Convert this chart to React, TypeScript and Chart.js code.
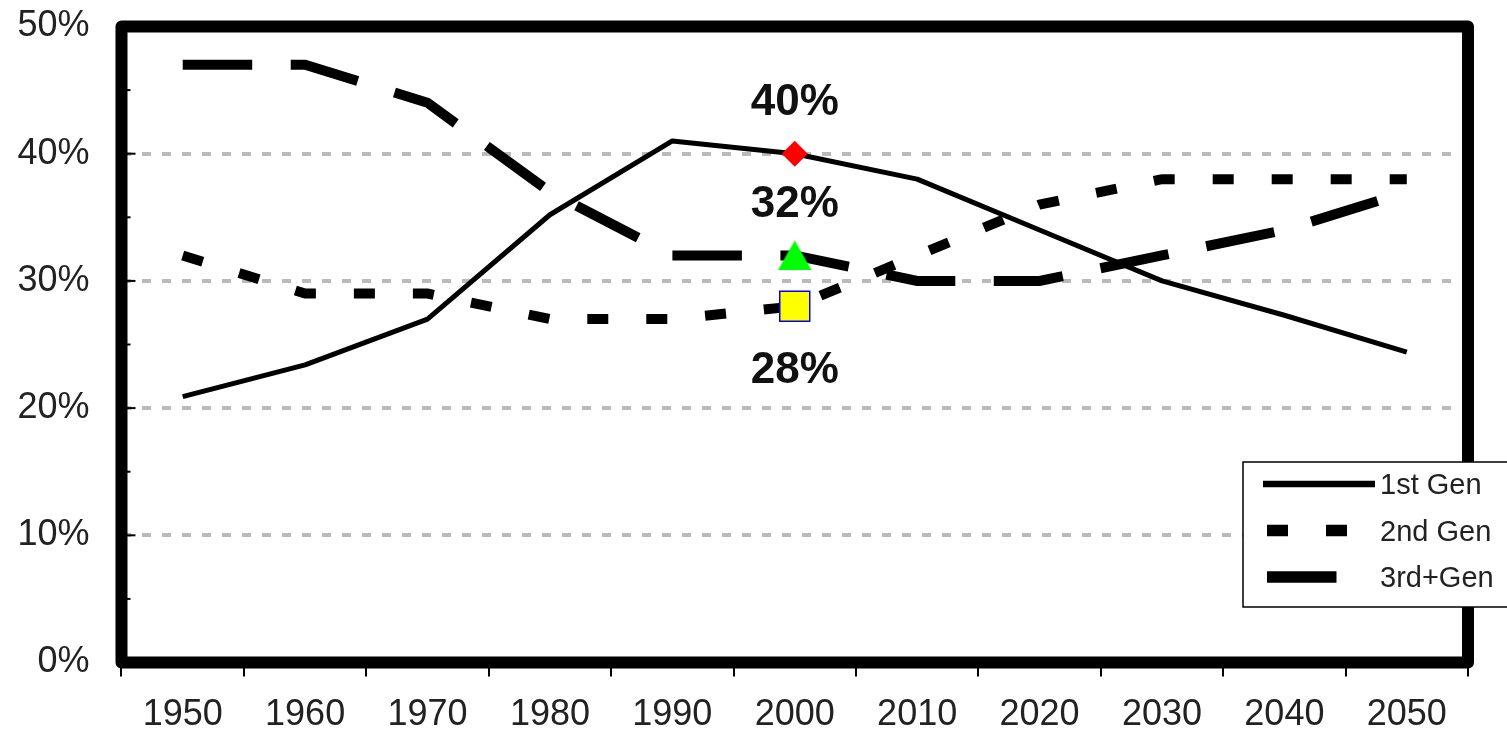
import React, { useEffect, useRef } from 'react';
import { Chart, registerables } from 'chart.js';

Chart.register(...registerables);

// ---- data ----
const years = ['1950', '1960', '1970', '1980', '1990', '2000', '2010', '2020', '2030', '2040', '2050'];
const firstGen = [20.9, 23.4, 27.0, 35.2, 41.0, 40.0, 38.0, 34.0, 30.0, 27.3, 24.4];
const secondGen = [32, 29, 29, 27, 27, 28, 32, 36, 38, 38, 38];
const thirdGen = [47, 47, 44, 37, 32, 32, 30, 30, 32, 34, 37];
const seriesLabels = ['1st Gen', '2nd Gen', '3rd+Gen'];
const yMin = 0;
const yMax = 50;
const yStep = 10;
const highlightYear = '2000';

const FONT = "'Liberation Sans', Arial, Helvetica, sans-serif";

function makeTriangle(w: number, h: number, color: string) {
  const c = document.createElement('canvas');
  c.width = w;
  c.height = h;
  const g = c.getContext('2d')!;
  g.fillStyle = color;
  g.beginPath();
  g.moveTo(w / 2, 0);
  g.lineTo(w, h);
  g.lineTo(0, h);
  g.closePath();
  g.fill();
  return c;
}

const framePlugin = {
  id: 'frameAndLegend',
  afterDraw(chart: any) {
    const { ctx, chartArea: a, scales } = chart;
    const ys = scales.y;
    const xs = scales.x;
    ctx.save();

    // inner y ticks (major + minor)
    ctx.strokeStyle = '#000';
    ctx.lineWidth = 2;
    for (let v = yMin; v <= yMax; v += yStep / 2) {
      const py = ys.getPixelForValue(v);
      const len = v % yStep === 0 ? 14 : 9;
      ctx.beginPath();
      ctx.moveTo(a.left, py);
      ctx.lineTo(a.left + len, py);
      ctx.stroke();
    }

    // thick frame
    ctx.lineWidth = 12;
    ctx.lineJoin = 'round';
    ctx.strokeStyle = '#000';
    ctx.strokeRect(a.left, a.top, a.right - a.left, a.bottom - a.top);

    // value labels at highlighted year
    const hi = years.indexOf(highlightYear);
    const px = xs.getPixelForValue(hi);
    ctx.font = `bold 44px ${FONT}`;
    ctx.fillStyle = '#111';
    ctx.textAlign = 'center';
    ctx.textBaseline = 'alphabetic';
    const labelDefs = [
      { v: firstGen[hi], off: -38.5 },
      { v: thirdGen[hi], off: -38.5 },
      { v: secondGen[hi], off: 77 },
    ];
    labelDefs.forEach((d) => {
      ctx.fillText(`${d.v}%`, px, ys.getPixelForValue(d.v) + d.off);
    });

    // legend box
    const lx = 1243;
    const ly = 462;
    const lw = 320;
    const lh = 145;
    ctx.fillStyle = '#fff';
    ctx.fillRect(lx, ly, lw, lh);
    ctx.lineWidth = 1.5;
    ctx.lineJoin = 'miter';
    ctx.strokeStyle = '#000';
    ctx.strokeRect(lx, ly, lw, lh);

    const lineSets = chart.data.datasets.filter((d: any) => d.isSeries);
    lineSets.forEach((d: any, i: number) => {
      const cy = ly + 22 + i * 46.5;
      ctx.save();
      ctx.strokeStyle = d.borderColor;
      ctx.lineWidth = d.borderWidth + 1.5;
      ctx.lineCap = 'butt';
      ctx.setLineDash(d.borderDash || []);
      ctx.beginPath();
      if (i === 0) {
        ctx.moveTo(lx + 20, cy);
        ctx.lineTo(lx + 132, cy);
      } else {
        ctx.moveTo(lx + 24, cy);
        ctx.lineTo(lx + 127, cy);
      }
      ctx.stroke();
      ctx.restore();
      ctx.font = `29px ${FONT}`;
      ctx.fillStyle = '#222';
      ctx.textAlign = 'left';
      ctx.textBaseline = 'middle';
      ctx.fillText(d.label, lx + 137, cy + 2);
    });

    ctx.restore();
  },
};

export default function App() {
  const ref = useRef<HTMLCanvasElement>(null);

  useEffect(() => {
    const canvas = ref.current;
    if (!canvas) return;
    const hi = years.indexOf(highlightYear);
    const only = (arr: number[]) => years.map((_, i) => (i === hi ? arr[i] : null));
    const tri = makeTriangle(34, 30, '#00ff00');

    const chart = new Chart(canvas, {
      type: 'line',
      data: {
        labels: years,
        datasets: [
          {
            label: 'marker1',
            data: only(firstGen),
            showLine: false,
            pointStyle: 'rectRot',
            pointRadius: 13,
            pointBackgroundColor: '#ff0000',
            pointBorderColor: '#ff0000',
            pointBorderWidth: 0,
            order: 0,
          } as any,
          {
            label: 'marker3',
            data: only(thirdGen),
            showLine: false,
            pointStyle: tri,
            pointRadius: 15,
            order: 0,
          } as any,
          {
            label: 'marker2',
            data: only(secondGen),
            showLine: false,
            pointStyle: 'rect',
            pointRadius: 21.2,
            pointBackgroundColor: '#ffff00',
            pointBorderColor: '#0000ff',
            pointBorderWidth: 1.5,
            order: 0,
          } as any,
          {
            label: seriesLabels[0],
            data: firstGen,
            isSeries: true,
            borderColor: '#000',
            borderWidth: 5,
            borderDash: [],
            pointRadius: 0,
            tension: 0,
            fill: false,
            borderCapStyle: 'butt',
            borderJoinStyle: 'round',
            order: 2,
          } as any,
          {
            label: seriesLabels[1],
            data: secondGen,
            isSeries: true,
            borderColor: '#000',
            borderWidth: 10,
            borderDash: [21, 38],
            pointRadius: 0,
            tension: 0,
            fill: false,
            borderCapStyle: 'butt',
            borderJoinStyle: 'miter',
            order: 2,
          } as any,
          {
            label: seriesLabels[2],
            data: thirdGen,
            isSeries: true,
            borderColor: '#000',
            borderWidth: 10,
            borderDash: [69.5, 38.5],
            pointRadius: 0,
            tension: 0,
            fill: false,
            borderCapStyle: 'butt',
            borderJoinStyle: 'miter',
            order: 2,
          } as any,
        ],
      },
      options: {
        responsive: false,
        animation: false,
        events: [],
        layout: { padding: { top: 26.5, right: 39, left: 0, bottom: 0 } },
        plugins: {
          legend: { display: false },
          tooltip: { enabled: false },
        },
        scales: {
          x: {
            type: 'category',
            offset: true,
            afterFit: (s: any) => {
              s.height = 70.5;
              s.paddingLeft = 0;
              s.paddingRight = 0;
            },
            grid: {
              display: true,
              offset: true,
              drawOnChartArea: false,
              drawTicks: true,
              tickLength: 14,
              color: '#000',
              lineWidth: 2,
            },
            border: { display: false },
            ticks: {
              padding: 17,
              maxRotation: 0,
              autoSkip: false,
              color: '#222',
              font: { family: FONT, size: 36 },
            },
          },
          y: {
            min: yMin,
            max: yMax,
            afterFit: (s: any) => {
              s.width = 121.5;
              s.paddingTop = 0;
              s.paddingBottom = 0;
            },
            grid: {
              display: true,
              drawTicks: false,
              color: '#bababa',
              lineWidth: 4,
            },
            border: { display: false, dash: [9, 11] },
            ticks: {
              stepSize: yStep,
              padding: 32,
              color: '#222',
              font: { family: FONT, size: 36 },
              callback: (v: any) => `${v}%`,
            },
          },
        },
      },
      plugins: [framePlugin],
    });
    return () => chart.destroy();
  }, []);

  return (
    <div style={{ position: 'absolute', left: 0, top: 0, width: 1507, height: 733, background: '#fff' }}>
      <canvas ref={ref} width={1507} height={733} style={{ display: 'block' }} />
    </div>
  );
}
